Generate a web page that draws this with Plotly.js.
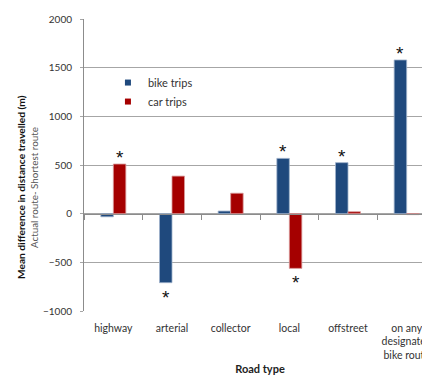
<!DOCTYPE html>
<html>
<head>
<meta charset="utf-8">
<script src="https://cdn.plot.ly/plotly-3.0.1.min.js"></script>
<style>
html, body { margin:0; padding:0; overflow:hidden; background:#fff; }
#chart { width:450px; height:375px; }
</style>
</head>
<body>
<div id="chart"></div>
<script>
// Data
var categories = ['highway', 'arterial', 'collector', 'local', 'offstreet', 'on any<br>designated<br>bike route'];
var bikeTrips = [-32, -709, 27, 568, 524, 1579];
var carTrips  = [510, 386, 210, -562, 20, -10];
var bikeSignificant = [false, true, false, true, true, true];
var carSignificant  = [true, false, false, true, false, false];
var seriesNames = ['bike trips', 'car trips'];
var yTicks = [-1000, -500, 0, 500, 1000, 1500, 2000];
var yTitleMain = 'Mean difference in distance travelled (m)';
var yTitleSub = 'Actual route- Shortest route';
var xTitle = 'Road type';

var bikeColor = '#1F497D';
var carColor = '#A50000';
var FONT = 'Lato, "Liberation Sans", sans-serif';
// trailing non-breaking spaces push the rotated title lower, as in the reference
var pad = new Array(19).join('&nbsp;');

var traces = [
  { type:'bar', name:seriesNames[0], x:categories, y:bikeTrips, showlegend:false,
    marker:{ color:bikeColor, line:{ color:'#9fb2cc', width:0.8 } }, hoverinfo:'x+y' },
  { type:'bar', name:seriesNames[1], x:categories, y:carTrips, showlegend:false,
    marker:{ color:carColor, line:{ color:'#d89a9a', width:0.8 } }, hoverinfo:'x+y' },
  // legend entries (small square keys like the reference)
  { type:'scatter', mode:'markers', name:seriesNames[0], x:[null], y:[null],
    marker:{ symbol:'square', size:6, color:bikeColor } },
  { type:'scatter', mode:'markers', name:seriesNames[1], x:[null], y:[null],
    marker:{ symbol:'square', size:6, color:carColor } },
  // carrier for the category axis drawn along the zero line
  { type:'scatter', mode:'markers', x:categories, y:bikeTrips, xaxis:'x2', yaxis:'y',
    marker:{ opacity:0 }, showlegend:false, hoverinfo:'skip' }
];

var annotations = [];
function addStars(values, flags, shift) {
  values.forEach(function (v, i) {
    if (!flags[i]) return;
    annotations.push({
      x: categories[i], y: v, xref:'x', yref:'y', text:'*', showarrow:false,
      xshift: shift, yanchor: v >= 0 ? 'bottom' : 'top', yshift: v >= 0 ? -6 : -2,
      font:{ family:'"Liberation Sans", sans-serif', size:19, color:'#111' }
    });
  });
}
addStars(bikeTrips, bikeSignificant, -6.3);
addStars(carTrips, carSignificant, 6.3);

var layout = {
  width:450, height:375,
  margin:{ l:84, r:14, t:19, b:64 },
  paper_bgcolor:'#fff', plot_bgcolor:'#fff',
  font:{ family:FONT, size:11, color:'#333' },
  barmode:'group', bargap:0.574, bargroupgap:0,
  showlegend:true,
  legend:{ x:0.068, y:0.832, xanchor:'left', yanchor:'top', bgcolor:'rgba(0,0,0,0)',
    font:{ family:FONT, size:11, color:'#333' } },
  xaxis:{ type:'category', range:[-0.5, 5.5], showgrid:false, showline:false, ticks:'',
    zeroline:false, tickfont:{ family:FONT, size:10.5, color:'#333' }, ticklabelstandoff:9,
    title:{ text:'<b>' + xTitle + '</b>', font:{ family:FONT, size:11, color:'#222' }, standoff:6 },
    automargin:false },
  xaxis2:{ type:'category', overlaying:'x', anchor:'free', position:1/3, side:'bottom',
    range:[-0.5, 5.5], showgrid:false, showline:true, linecolor:'#8c8c8c', linewidth:1,
    ticks:'outside', tickson:'boundaries', ticklen:5, tickcolor:'#8c8c8c',
    showticklabels:false, zeroline:false },
  yaxis:{ range:[-1000, 2000], tickvals:yTicks, gridcolor:'#a6a6a6', gridwidth:1,
    showline:true, linecolor:'#8c8c8c', ticks:'outside', ticklen:3, tickcolor:'#a6a6a6',
    zeroline:false, tickfont:{ family:FONT, size:10, color:'#333' }, ticklabelstandoff:6,
    title:{ text:'<b><span style="font-size:10.2px">' + yTitleMain + pad + '</span></b><br>' +
                 '<span style="font-size:9.8px;color:#555">' + yTitleSub + pad + '</span>',
      font:{ family:FONT, size:10, color:'#111' }, standoff:2 },
    automargin:false },
  annotations: annotations
};

Plotly.newPlot('chart', traces, layout, { displayModeBar:false, staticPlot:true });
</script>
</body>
</html>
